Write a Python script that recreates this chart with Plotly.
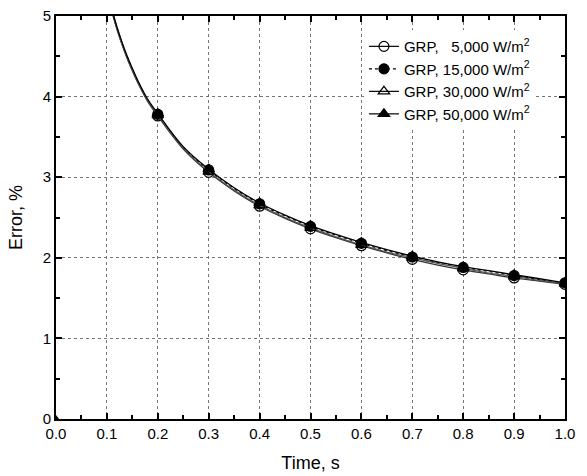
import plotly.graph_objects as go

# curve samples (time, s) and error (%)
t_curve = [0.11, 0.12, 0.13, 0.14, 0.15, 0.16, 0.18, 0.20, 0.25, 0.30, 0.35, 0.40, 0.45,
           0.50, 0.55, 0.60, 0.65, 0.70, 0.75, 0.80, 0.85, 0.90, 0.95, 1.00]
err_5k  = [5.05, 4.83, 4.64, 4.47, 4.32, 4.18, 3.94, 3.76, 3.35, 3.06, 2.83, 2.64, 2.49,
           2.36, 2.25, 2.15, 2.06, 1.98, 1.91, 1.85, 1.80, 1.75, 1.71, 1.67]
err_15k = [5.07, 4.85, 4.66, 4.49, 4.34, 4.20, 3.96, 3.78, 3.37, 3.09, 2.86, 2.67, 2.52,
           2.39, 2.28, 2.18, 2.09, 2.01, 1.94, 1.88, 1.83, 1.78, 1.73, 1.69]
err_30k = [5.06, 4.84, 4.65, 4.48, 4.33, 4.19, 3.95, 3.77, 3.36, 3.07, 2.84, 2.65, 2.50,
           2.37, 2.26, 2.16, 2.07, 2.00, 1.93, 1.87, 1.81, 1.77, 1.72, 1.68]
err_50k = [5.08, 4.86, 4.67, 4.50, 4.35, 4.21, 3.97, 3.79, 3.38, 3.10, 2.87, 2.68, 2.53,
           2.40, 2.29, 2.19, 2.10, 2.02, 1.95, 1.89, 1.84, 1.79, 1.74, 1.69]

# marker positions
t_mark = [0.2, 0.3, 0.4, 0.5, 0.6, 0.7, 0.8, 0.9, 1.0]
m_5k  = [3.76, 3.06, 2.64, 2.36, 2.15, 1.98, 1.85, 1.75, 1.67]
m_15k = [3.78, 3.09, 2.67, 2.39, 2.18, 2.01, 1.88, 1.78, 1.69]
m_30k = [3.77, 3.07, 2.65, 2.37, 2.16, 2.00, 1.87, 1.77, 1.68]
m_50k = [3.79, 3.10, 2.68, 2.40, 2.19, 2.02, 1.89, 1.79, 1.69]

# origin point
t0 = [0.0]
e0 = [0.0]

NB = "\u00a0"
labels = [f"GRP,{NB}{NB}{NB}5,000 W/m<sup>2</sup>",
          "GRP, 15,000 W/m<sup>2</sup>",
          "GRP, 30,000 W/m<sup>2</sup>",
          "GRP, 50,000 W/m<sup>2</sup>"]
curves = [err_5k, err_15k, err_30k, err_50k]
marks = [m_5k, m_15k, m_30k, m_50k]
symbols = ["circle-open", "circle", "triangle-up-open", "triangle-up"]
dashes = ["solid", "dot", "solid", "solid"]
colors = ["#333333", "#111111", "#555555", "#000000"]

FONT = "Liberation Sans, Arial"

fig = go.Figure()

for lab, cy, my, sym, dash, col in zip(labels, curves, marks, symbols, dashes, colors):
    fig.add_trace(go.Scatter(x=t_curve, y=cy, mode="lines", line=dict(color=col, width=1.3, dash=dash,
                             shape="spline"), showlegend=False, hoverinfo="skip"))
    fig.add_trace(go.Scatter(x=t_mark, y=my, mode="markers",
                             marker=dict(symbol=sym, size=10, color="black",
                                         line=dict(color="black", width=1.2)),
                             showlegend=False))
    fig.add_trace(go.Scatter(x=[None], y=[None], mode="lines+markers", name=lab,
                             line=dict(color="black", width=1.2, dash=dash),
                             marker=dict(symbol=sym, size=10, color="black",
                                         line=dict(color="black", width=1.2))))

fig.add_trace(go.Scatter(x=t0, y=e0, mode="markers", marker=dict(symbol="triangle-up", size=8, color="black"),
                         showlegend=False))

axis_common = dict(
    showline=True, linecolor="black", linewidth=2, mirror="ticks",
    ticks="inside", ticklen=6, tickwidth=1.5, tickcolor="black",
    showgrid=True, gridcolor="#777777", griddash="dot", gridwidth=1,
    zeroline=False, automargin=False,
    tickfont=dict(family=FONT, size=15, color="black"),
)

fig.update_xaxes(range=[0, 1.0], dtick=0.1, tickformat=".1f",
                 minor=dict(dtick=0.05, ticks="inside", ticklen=4, tickcolor="black", showgrid=False),
                 title=dict(text="Time, s", font=dict(family=FONT, size=18, color="black")),
                 **axis_common)
fig.update_yaxes(range=[0, 5], dtick=1,
                 minor=dict(dtick=0.5, ticks="inside", ticklen=4, tickcolor="black", showgrid=False),
                 title=dict(text="Error, %", font=dict(family=FONT, size=18, color="black")),
                 **axis_common)

fig.update_layout(
    width=587, height=476,
    margin=dict(l=56, r=22, t=16, b=57),
    plot_bgcolor="white", paper_bgcolor="white",
    font=dict(family=FONT, size=15, color="black"),
    legend=dict(x=0.605, y=0.965, xanchor="left", yanchor="top",
                bgcolor="rgba(255,255,255,1)", borderwidth=0,
                font=dict(family=FONT, size=15, color="black"),
                tracegroupgap=0, itemwidth=30),
)

fig.write_html("out.html")
